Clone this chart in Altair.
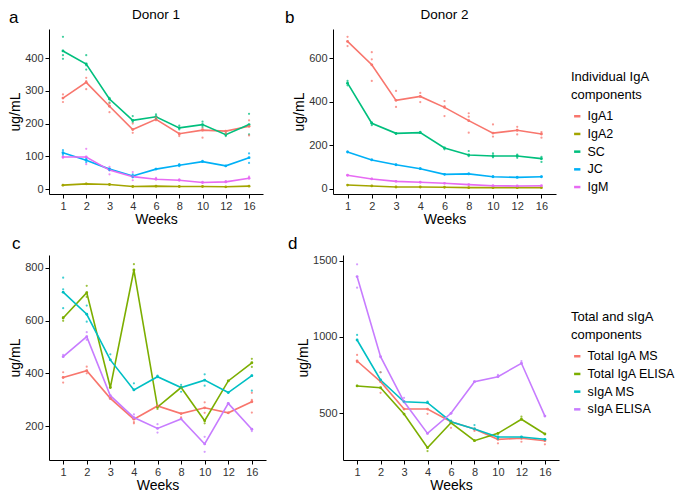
import altair as alt
import pandas as pd

FONT = "Liberation Sans"
weeks = ["1", "2", "3", "4", "6", "8", "10", "12", "16"]

# ---- top row series ----
top_series = ["IgA1", "IgA2", "SC", "JC", "IgM"]
top_colors = ["#F8766D", "#A3A500", "#00BF7D", "#00B0F6", "#E76BF3"]

a_IgA1 = [278, 326, 253, 182, 213, 169, 180, 177, 192]
a_IgA2 = [12, 16, 14, 8, 9, 8, 8, 7, 9]
a_SC = [422, 382, 275, 210, 221, 187, 197, 166, 197]
a_JC = [111, 88, 61, 40, 61, 73, 84, 71, 96]
a_IgM = [98, 98, 58, 38, 30, 27, 20, 22, 33]

b_IgA1 = [676, 569, 406, 424, 374, 313, 256, 269, 252]
b_IgA2 = [18, 14, 9, 9, 8, 6, 6, 6, 6]
b_SC = [485, 301, 255, 258, 188, 156, 151, 151, 139]
b_JC = [169, 133, 111, 93, 67, 69, 56, 53, 56]
b_IgM = [63, 46, 35, 31, 26, 20, 15, 14, 15]

# ---- bottom row series ----
bot_series = ["Total IgA MS", "Total IgA ELISA", "sIgA MS", "sIgA ELISA"]
bot_colors = ["#F8766D", "#7CAE00", "#00BFC4", "#C77CFF"]

c_TMS = [384, 410, 305, 226, 276, 247, 269, 250, 292]
c_TEL = [610, 706, 346, 792, 272, 346, 220, 371, 440]
c_SMS = [708, 624, 451, 337, 387, 346, 374, 327, 391]
c_SEL = [463, 539, 315, 232, 191, 227, 132, 286, 188]

d_TMS = [842, 706, 526, 526, 443, 395, 327, 334, 318]
d_TEL = [678, 666, 493, 272, 436, 318, 366, 459, 362]
d_SMS = [980, 717, 574, 568, 443, 395, 342, 342, 327]
d_SEL = [1397, 870, 574, 366, 498, 706, 739, 827, 480]

# ---- replicate dots: (series, week, value) ----
a_dots = [
    ("SC", "1", 465), ("SC", "1", 409), ("SC", "1", 398), ("SC", "2", 409), ("SC", "2", 378), ("SC", "2", 365),
    ("SC", "3", 279), ("SC", "3", 264), ("SC", "4", 223), ("SC", "4", 205), ("SC", "6", 228), ("SC", "6", 215),
    ("SC", "8", 194), ("SC", "8", 182), ("SC", "10", 206), ("SC", "10", 190), ("SC", "12", 170), ("SC", "12", 162),
    ("SC", "16", 230), ("SC", "16", 167),
    ("IgA1", "1", 289), ("IgA1", "1", 266), ("IgA1", "2", 340), ("IgA1", "2", 330), ("IgA1", "2", 305),
    ("IgA1", "3", 235), ("IgA1", "3", 262), ("IgA1", "4", 200), ("IgA1", "4", 172), ("IgA1", "6", 210),
    ("IgA1", "6", 218), ("IgA1", "8", 167), ("IgA1", "8", 162), ("IgA1", "10", 157), ("IgA1", "10", 185),
    ("IgA1", "12", 177), ("IgA1", "12", 170), ("IgA1", "16", 210), ("IgA1", "16", 164), ("IgA1", "16", 192),
    ("JC", "1", 119), ("JC", "1", 105), ("JC", "2", 82), ("JC", "2", 92), ("JC", "3", 63), ("JC", "3", 58),
    ("JC", "4", 45), ("JC", "4", 36), ("JC", "6", 62), ("JC", "8", 76), ("JC", "8", 70), ("JC", "10", 86),
    ("JC", "12", 70), ("JC", "16", 109), ("JC", "16", 80),
    ("IgM", "1", 96), ("IgM", "2", 123), ("IgM", "2", 76), ("IgM", "3", 68), ("IgM", "3", 45), ("IgM", "4", 52),
    ("IgM", "4", 27), ("IgM", "6", 34), ("IgM", "8", 30), ("IgM", "10", 22), ("IgM", "12", 24), ("IgM", "16", 38),
    ("IgA2", "1", 12), ("IgA2", "2", 16), ("IgA2", "3", 14),
]
b_dots = [
    ("IgA1", "1", 697), ("IgA1", "1", 655), ("IgA1", "2", 627), ("IgA1", "2", 594), ("IgA1", "2", 495),
    ("IgA1", "3", 449), ("IgA1", "3", 376), ("IgA1", "4", 440), ("IgA1", "4", 398), ("IgA1", "6", 403),
    ("IgA1", "6", 380), ("IgA1", "6", 334), ("IgA1", "8", 347), ("IgA1", "8", 331), ("IgA1", "8", 258),
    ("IgA1", "10", 296), ("IgA1", "10", 240), ("IgA1", "12", 285), ("IgA1", "12", 250), ("IgA1", "16", 261),
    ("IgA1", "16", 235),
    ("SC", "1", 495), ("SC", "1", 475), ("SC", "2", 292), ("SC", "2", 305), ("SC", "3", 252), ("SC", "4", 262),
    ("SC", "6", 182), ("SC", "8", 174), ("SC", "8", 150), ("SC", "10", 163), ("SC", "10", 145), ("SC", "12", 158),
    ("SC", "12", 143), ("SC", "16", 147), ("SC", "16", 124),
    ("JC", "1", 172), ("JC", "2", 135), ("JC", "3", 110), ("JC", "4", 95), ("JC", "6", 68), ("JC", "8", 70),
    ("JC", "10", 58), ("JC", "12", 55), ("JC", "16", 57),
    ("IgM", "1", 63), ("IgM", "2", 46),
]
c_dots = [
    ("sIgA MS", "1", 763), ("sIgA MS", "1", 719), ("sIgA MS", "1", 647), ("sIgA MS", "2", 657), ("sIgA MS", "2", 596),
    ("sIgA MS", "3", 472), ("sIgA MS", "4", 362), ("sIgA MS", "4", 337), ("sIgA MS", "6", 391), ("sIgA MS", "8", 356),
    ("sIgA MS", "8", 330), ("sIgA MS", "10", 396), ("sIgA MS", "10", 353), ("sIgA MS", "12", 327),
    ("sIgA MS", "16", 334), ("sIgA MS", "16", 391),
    ("Total IgA ELISA", "1", 599), ("Total IgA ELISA", "1", 613), ("Total IgA ELISA", "2", 732),
    ("Total IgA ELISA", "2", 690), ("Total IgA ELISA", "3", 346), ("Total IgA ELISA", "4", 814),
    ("Total IgA ELISA", "4", 792), ("Total IgA ELISA", "6", 265), ("Total IgA ELISA", "8", 346),
    ("Total IgA ELISA", "10", 210), ("Total IgA ELISA", "12", 371), ("Total IgA ELISA", "16", 455),
    ("Total IgA ELISA", "16", 424),
    ("sIgA ELISA", "1", 470), ("sIgA ELISA", "2", 556), ("sIgA ELISA", "2", 527), ("sIgA ELISA", "3", 303),
    ("sIgA ELISA", "4", 244), ("sIgA ELISA", "6", 175), ("sIgA ELISA", "6", 207), ("sIgA ELISA", "8", 227),
    ("sIgA ELISA", "10", 159), ("sIgA ELISA", "10", 102), ("sIgA ELISA", "12", 286), ("sIgA ELISA", "16", 181),
    ("Total IgA MS", "1", 404), ("Total IgA MS", "1", 365), ("Total IgA MS", "2", 425), ("Total IgA MS", "2", 400),
    ("Total IgA MS", "3", 303), ("Total IgA MS", "4", 210), ("Total IgA MS", "4", 215), ("Total IgA MS", "6", 276),
    ("Total IgA MS", "8", 233), ("Total IgA MS", "10", 290), ("Total IgA MS", "10", 250), ("Total IgA MS", "12", 250),
    ("Total IgA MS", "16", 326), ("Total IgA MS", "16", 299), ("Total IgA MS", "16", 251),
]
d_dots = [
    ("sIgA ELISA", "1", 1478), ("sIgA ELISA", "1", 1324), ("sIgA ELISA", "3", 600), ("sIgA ELISA", "4", 366),
    ("sIgA ELISA", "6", 498), ("sIgA ELISA", "8", 706), ("sIgA ELISA", "10", 739), ("sIgA ELISA", "10", 750),
    ("sIgA ELISA", "12", 842), ("sIgA ELISA", "16", 480),
    ("sIgA MS", "1", 1013), ("sIgA MS", "2", 768), ("sIgA MS", "3", 574), ("sIgA MS", "4", 575),
    ("sIgA MS", "6", 450), ("sIgA MS", "8", 421), ("sIgA MS", "10", 330), ("sIgA MS", "12", 342), ("sIgA MS", "16", 327),
    ("Total IgA MS", "1", 882), ("Total IgA MS", "1", 834), ("Total IgA MS", "2", 768), ("Total IgA MS", "2", 633),
    ("Total IgA MS", "4", 495), ("Total IgA MS", "6", 403), ("Total IgA MS", "8", 382), ("Total IgA MS", "10", 301),
    ("Total IgA MS", "12", 311), ("Total IgA MS", "16", 294),
    ("Total IgA ELISA", "1", 678), ("Total IgA ELISA", "4", 250), ("Total IgA ELISA", "6", 436),
    ("Total IgA ELISA", "8", 318), ("Total IgA ELISA", "10", 366), ("Total IgA ELISA", "12", 476),
    ("Total IgA ELISA", "16", 362),
]


def means_df(series, arrays):
    rows = []
    for s, arr in zip(series, arrays):
        for w, v in zip(weeks, arr):
            rows.append({"series": s, "week": w, "value": v})
    return pd.DataFrame(rows)


def dots_df(dots):
    return pd.DataFrame(dots, columns=["series", "week", "value"])


def panel(mdf, ddf, series, colors, ydom, yticks, letter, letter_dx, w, h,
          legend_title, legend_xy, title=None):
    color = alt.Color(
        "series:N",
        scale=alt.Scale(domain=series, range=colors),
        legend=alt.Legend(title=legend_title, symbolType="stroke", symbolStrokeWidth=2.5,
                          symbolSize=40, orient="none", legendX=legend_xy[0], legendY=legend_xy[1]),
    )
    x = alt.X("week:N", sort=weeks,
              scale=alt.Scale(type="point", padding=0.6),
              axis=alt.Axis(title="Weeks", labelAngle=0, titlePadding=1))
    y = alt.Y("value:Q",
              scale=alt.Scale(domain=ydom, nice=False, zero=False),
              axis=alt.Axis(values=yticks, title="ug/mL", format="d", titlePadding=2))
    line = alt.Chart(mdf).mark_line(strokeWidth=1.6).encode(x=x, y=y, color=color)
    mpts = alt.Chart(mdf).mark_point(filled=True, size=8, opacity=1).encode(x=x, y=y, color=color)
    dots = alt.Chart(ddf).mark_circle(size=5, opacity=0.75).encode(x=x, y=y, color=color)
    lab = alt.Chart(pd.DataFrame({"t": [letter]})).mark_text(
        align="left", baseline="alphabetic", fontSize=17, font=FONT, color="black"
    ).encode(x=alt.value(letter_dx), y=alt.value(-6), text="t:N")
    layers = [line, mpts, dots, lab]
    if title:
        tt = alt.Chart(pd.DataFrame({"t": [title]})).mark_text(
            align="center", baseline="alphabetic", fontSize=13.5, font=FONT, color="black"
        ).encode(x=alt.value(w / 2), y=alt.value(-10), text="t:N")
        layers.append(tt)
    return alt.layer(*layers).properties(width=w, height=h)


LEG_TOP = (522, 42)
LEG_BOT = (522, 56)
pa = panel(means_df(top_series, [a_IgA1, a_IgA2, a_SC, a_JC, a_IgM]), dots_df(a_dots),
           top_series, top_colors, [-15, 489], [0, 100, 200, 300, 400], "a", -40, 214, 165,
           ["Individual IgA", "components"], LEG_TOP, "Donor 1")
pb = panel(means_df(top_series, [b_IgA1, b_IgA2, b_SC, b_JC, b_IgM]), dots_df(b_dots),
           top_series, top_colors, [-23, 733], [0, 200, 400, 600], "b", -48, 223, 165,
           ["Individual IgA", "components"], LEG_TOP, "Donor 2")
pc = panel(means_df(bot_series, [c_TMS, c_TEL, c_SMS, c_SEL]), dots_df(c_dots),
           bot_series, bot_colors, [71, 849], [200, 400, 600, 800], "c", -37, 217, 205,
           ["Total and sIgA", "components"], LEG_BOT)
pd_ = panel(means_df(bot_series, [d_TMS, d_TEL, d_SMS, d_SEL]), dots_df(d_dots),
            bot_series, bot_colors, [191, 1539], [500, 1000, 1500], "d", -55, 216, 205,
            ["Total and sIgA", "components"], LEG_BOT)

top = alt.hconcat(pa, pb, spacing=22)
bot = alt.hconcat(pc, pd_, spacing=22)

chart = alt.vconcat(top, bot, spacing=9).resolve_scale(color="independent").properties(
    padding=0
).configure_view(stroke=None).configure_axis(
    grid=False, domainColor="black", domainWidth=1, tickColor="black", tickSize=4,
    labelFont=FONT, labelFontSize=11, labelColor="#333333", titleFont=FONT, titleFontSize=14,
    titleFontWeight="normal", titleColor="black", labelPadding=2
).configure_legend(
    titleFont=FONT, titleFontSize=13, titleFontWeight="normal", titleColor="black",
    titleLineHeight=18, titlePadding=8,
    labelFont=FONT, labelFontSize=12.5, labelColor="black", rowPadding=4.7
)

chart.save("out.html", embed_options={"renderer": "svg", "actions": False})
